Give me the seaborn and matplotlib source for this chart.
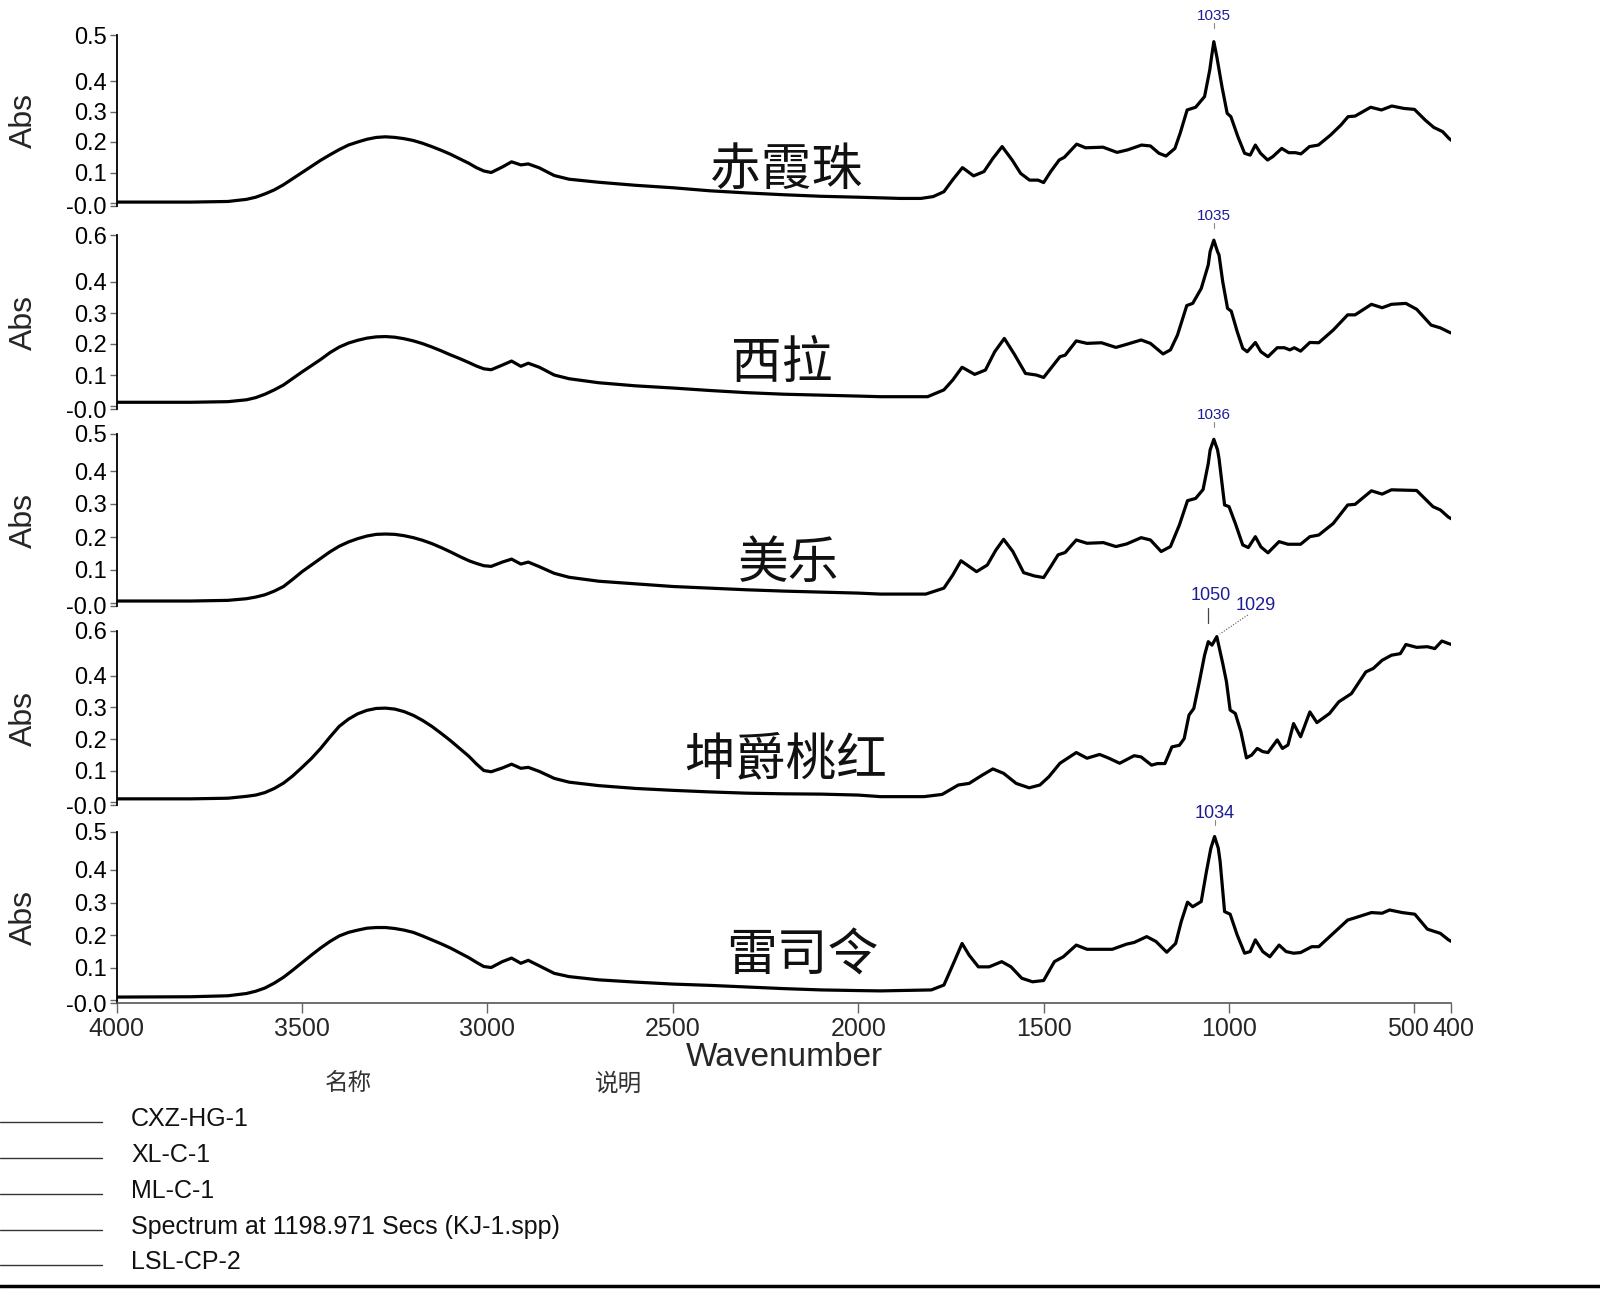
import numpy as np
import pandas as pd
import matplotlib
matplotlib.use("Agg")
import matplotlib.pyplot as plt
from matplotlib.lines import Line2D
import matplotlib.transforms as mtransforms
import seaborn as sns

# ---------------- data ----------------
sample_names = ["赤霞珠", "西拉", "美乐", "坤爵桃红", "雷司令"]
legend_names = ["CXZ-HG-1", "XL-C-1", "ML-C-1",
                "Spectrum at 1198.971 Secs (KJ-1.spp)", "LSL-CP-2"]
peak_labels = [["1035"], ["1035"], ["1036"], ["1050", "1029"], ["1034"]]
top_tick_labels = ["0.5", "0.6", "0.5", "0.6", "0.5"]
x_ticks = [4000, 3500, 3000, 2500, 2000, 1500, 1000, 500, 400]
x_tick_labels = ["4000", "3500", "3000", "2500", "2000", "1500", "1000", "500", "400"]
y_ticks = [0.1, 0.2, 0.3, 0.4]

# high-wavenumber region (shared read positions)
wn_broad = [4000, 3800, 3700, 3650, 3625, 3600, 3575, 3550, 3525, 3500, 3475, 3450, 3425, 3400,
            3375, 3350, 3325, 3300, 3275, 3250, 3225, 3200, 3175, 3150, 3125, 3100, 3075, 3050,
            3030, 3010, 2990, 2960, 2935, 2910, 2890, 2860, 2820, 2780, 2700, 2600, 2500, 2400,
            2300, 2200, 2100, 2000]
broad_cxz = [0.003, 0.003, 0.005, 0.012, 0.019, 0.03, 0.043, 0.06, 0.08, 0.10, 0.12, 0.14, 0.158, 0.175,
             0.19, 0.20, 0.209, 0.215, 0.217, 0.215, 0.211, 0.205, 0.196, 0.185, 0.173, 0.16, 0.145, 0.13,
             0.116, 0.105, 0.10, 0.118, 0.135, 0.125, 0.128, 0.115, 0.09, 0.078, 0.068, 0.058, 0.05, 0.04,
             0.033, 0.027, 0.022, 0.019]
broad_xl = [0.012, 0.012, 0.014, 0.02, 0.027, 0.038, 0.052, 0.068, 0.089, 0.11, 0.13, 0.15, 0.172, 0.19,
            0.203, 0.212, 0.219, 0.223, 0.224, 0.222, 0.217, 0.21, 0.201, 0.19, 0.178, 0.165, 0.153, 0.14,
            0.129, 0.12, 0.117, 0.132, 0.145, 0.128, 0.138, 0.125, 0.10, 0.088, 0.075, 0.065, 0.058, 0.05,
            0.043, 0.038, 0.035, 0.032]
broad_ml = [0.006, 0.006, 0.008, 0.013, 0.018, 0.025, 0.036, 0.05, 0.072, 0.095, 0.115, 0.135, 0.155, 0.172,
            0.185, 0.195, 0.203, 0.208, 0.209, 0.208, 0.204, 0.198, 0.19, 0.18, 0.168, 0.155, 0.141, 0.128,
            0.12, 0.113, 0.111, 0.124, 0.133, 0.118, 0.124, 0.11, 0.09, 0.078, 0.066, 0.058, 0.05, 0.045,
            0.04, 0.036, 0.033, 0.03]
broad_kj = [0.01, 0.01, 0.012, 0.018, 0.022, 0.03, 0.043, 0.06, 0.083, 0.11, 0.138, 0.17, 0.206, 0.24,
            0.263, 0.28, 0.291, 0.297, 0.298, 0.295, 0.287, 0.275, 0.259, 0.24, 0.218, 0.195, 0.17, 0.145,
            0.121, 0.10, 0.096, 0.108, 0.12, 0.107, 0.11, 0.097, 0.075, 0.063, 0.052, 0.043, 0.037, 0.032,
            0.028, 0.026, 0.025, 0.022]
broad_lsl = [0.009, 0.01, 0.013, 0.02, 0.027, 0.037, 0.052, 0.07, 0.092, 0.115, 0.138, 0.16, 0.18, 0.197,
             0.208, 0.215, 0.221, 0.223, 0.223, 0.22, 0.215, 0.208, 0.197, 0.185, 0.173, 0.16, 0.145, 0.13,
             0.116, 0.103, 0.10, 0.118, 0.129, 0.113, 0.122, 0.105, 0.082, 0.072, 0.062, 0.055, 0.049, 0.045,
             0.04, 0.035, 0.031, 0.029]

# fingerprint region
fp_wn_cxz = [1887, 1831, 1798, 1769, 1746, 1719, 1689, 1661, 1637, 1612, 1585, 1562, 1538, 1515, 1500,
             1481, 1458, 1444, 1411, 1387, 1340, 1302, 1274, 1236, 1212, 1189, 1170, 1146, 1132, 1113,
             1090, 1066, 1052, 1047, 1041, 1033, 1019, 1005, 995, 976, 958, 943, 929, 915, 896, 882,
             858, 839, 821, 806, 783, 759, 726, 698, 679, 660, 618, 589, 561, 528, 500, 471, 448, 424,
             407, 400]
fp_cxz = [0.015, 0.015, 0.021, 0.037, 0.075, 0.116, 0.089, 0.103, 0.146, 0.185, 0.141, 0.097, 0.075, 0.075, 0.067,
          0.103, 0.141, 0.15, 0.193, 0.181, 0.183, 0.166, 0.174, 0.19, 0.187, 0.163, 0.154, 0.179, 0.228, 0.305,
          0.314, 0.349, 0.436, 0.48, 0.529, 0.48, 0.381, 0.294, 0.283, 0.217, 0.163, 0.157, 0.19, 0.163, 0.141, 0.152,
          0.179, 0.165, 0.165, 0.161, 0.185, 0.19, 0.223, 0.256, 0.283, 0.285, 0.314, 0.305, 0.318, 0.31, 0.307,
          0.272, 0.248, 0.234, 0.212, 0.205]

fp_wn_xl = [1940, 1813, 1769, 1745, 1720, 1686, 1657, 1632, 1606, 1578, 1549, 1520, 1500, 1481,
            1456, 1442, 1412, 1383, 1344, 1305, 1276, 1237, 1212, 1178, 1158, 1139, 1114, 1098,
            1075, 1056, 1051, 1041, 1031, 1027, 1017, 1004, 994, 978, 963, 951, 939, 929, 914, 895,
            870, 851, 836, 824, 807, 782, 758, 719, 680, 660, 616, 587, 562, 523, 494, 455, 430, 408, 400]
fp_xl = [0.030, 0.030, 0.052, 0.084, 0.125, 0.102, 0.116, 0.175, 0.218, 0.165, 0.105, 0.10, 0.092, 0.121,
         0.159, 0.164, 0.21, 0.202, 0.204, 0.189, 0.199, 0.213, 0.202, 0.168, 0.181, 0.229, 0.324, 0.331,
         0.379, 0.455, 0.498, 0.535, 0.498, 0.487, 0.401, 0.315, 0.306, 0.24, 0.186, 0.175, 0.191, 0.205, 0.175, 0.159,
         0.188, 0.188, 0.181, 0.188, 0.177, 0.205, 0.204, 0.245, 0.294, 0.294, 0.328, 0.317, 0.328, 0.331, 0.312,
         0.261, 0.252, 0.239, 0.235]

fp_wn_ml = [1940, 1818, 1769, 1745, 1723, 1681, 1652, 1629, 1608, 1583, 1554, 1525, 1500, 1481,
            1461, 1442, 1412, 1383, 1339, 1305, 1276, 1237, 1212, 1183, 1158, 1134, 1112, 1090,
            1070, 1056, 1051, 1041, 1031, 1027, 1012, 1000, 983, 963, 948, 929, 914, 895, 865,
            841, 807, 782, 758, 719, 680, 660, 616, 587, 562, 494, 450, 430, 408, 400]
fp_ml = [0.027, 0.027, 0.045, 0.085, 0.128, 0.095, 0.115, 0.16, 0.193, 0.156, 0.092, 0.082, 0.077, 0.11,
         0.146, 0.153, 0.191, 0.181, 0.183, 0.171, 0.179, 0.198, 0.191, 0.156, 0.171, 0.236, 0.31, 0.317,
         0.344, 0.423, 0.464, 0.496, 0.464, 0.438, 0.297, 0.292, 0.241, 0.176, 0.168, 0.201, 0.17, 0.152, 0.186,
         0.178, 0.178, 0.201, 0.206, 0.241, 0.297, 0.299, 0.34, 0.33, 0.343, 0.341, 0.292, 0.282, 0.26, 0.255]

fp_wn_kj = [1940, 1823, 1774, 1730, 1701, 1666, 1637, 1608, 1574, 1539, 1510, 1486, 1456, 1412,
            1383, 1349, 1324, 1295, 1256, 1237, 1209, 1193, 1173, 1154, 1134, 1121, 1108, 1095,
            1080, 1066, 1056, 1046, 1033, 1017, 1007, 997, 983, 968, 953, 939, 924, 909, 895, 870,
            856, 841, 826, 807, 782, 763, 729, 704, 670, 631, 611, 587, 562, 538, 523, 494, 465,
            445, 426, 408, 400]
fp_kj = [0.017, 0.017, 0.024, 0.054, 0.059, 0.085, 0.105, 0.091, 0.059, 0.045, 0.054, 0.08, 0.123, 0.157,
         0.139, 0.151, 0.139, 0.123, 0.147, 0.143, 0.117, 0.122, 0.122, 0.175, 0.18, 0.201, 0.276, 0.297,
         0.382, 0.466, 0.509, 0.498, 0.525, 0.44, 0.382, 0.292, 0.281, 0.223, 0.14, 0.149, 0.17, 0.16, 0.157, 0.197,
         0.17, 0.181, 0.249, 0.207, 0.286, 0.252, 0.281, 0.318, 0.344, 0.413, 0.424, 0.45, 0.466, 0.471, 0.5, 0.491, 0.493,
         0.487, 0.511, 0.503, 0.5]

fp_wn_lsl = [1940, 1803, 1769, 1745, 1720, 1701, 1676, 1647, 1613, 1588, 1559, 1530, 1500, 1471,
             1447, 1412, 1383, 1315, 1276, 1256, 1222, 1197, 1168, 1144, 1129, 1112, 1098, 1075,
             1061, 1049, 1039, 1029, 1024, 1012, 997, 978, 958, 943, 929, 909, 890, 865, 846, 826,
             807, 777, 758, 719, 680, 660, 616, 587, 567, 533, 499, 465, 430, 408, 400]
fp_lsl = [0.028, 0.031, 0.046, 0.108, 0.174, 0.138, 0.102, 0.102, 0.118, 0.102, 0.067, 0.056, 0.06, 0.118,
          0.133, 0.169, 0.156, 0.156, 0.172, 0.177, 0.195, 0.18, 0.147, 0.174, 0.241, 0.301, 0.287, 0.303,
          0.395, 0.467, 0.503, 0.467, 0.426, 0.272, 0.264, 0.2, 0.144, 0.149, 0.185, 0.149, 0.133, 0.169, 0.149, 0.144,
          0.146, 0.164, 0.164, 0.205, 0.246, 0.253, 0.269, 0.267, 0.277, 0.269, 0.264, 0.218, 0.205, 0.185, 0.18]

spectra = [
    (wn_broad + fp_wn_cxz, broad_cxz + fp_cxz),
    (wn_broad + fp_wn_xl, broad_xl + fp_xl),
    (wn_broad + fp_wn_ml, broad_ml + fp_ml),
    (wn_broad + fp_wn_kj, broad_kj + fp_kj),
    (wn_broad + fp_wn_lsl, broad_lsl + fp_lsl),
]

# ---------------- style ----------------
sns.set_theme(style="white")
plt.rcParams['font.family'] = ['Liberation Sans', 'Noto Sans CJK SC', 'DejaVu Sans']
plt.rcParams['axes.unicode_minus'] = False

W, H = 1600, 1289
fig = plt.figure(figsize=(W / 100, H / 100), dpi=100)
fig.patch.set_facecolor('white')

AX_L, AX_R = 116.7, 1451.5
# (top px, zero px, px per unit)
layout = [(35, 203, 305), (235, 406, 310), (434, 603, 330), (631, 802, 315), (832, 1000, 325)]
label_pos = [(786, 171), (782, 364), (789, 564), (786, 760), (802, 957)]
blue = '#1c1c96'

axes = []
for i, ((top, zero, scale), (wn, ab)) in enumerate(zip(layout, spectra)):
    bottom = zero + 3
    vmin = -3.0 / scale
    vtop = (zero - top) / scale
    ax = fig.add_axes([AX_L / W, 1 - bottom / H, (AX_R - AX_L) / W, (bottom - top) / H])
    ax.set_facecolor('none')
    df = pd.DataFrame({"Wavenumber": wn, "Abs": ab})
    sns.lineplot(data=df, x="Wavenumber", y="Abs", ax=ax, color='black', lw=2.3,
                 sort=False, estimator=None)
    ax.set_xlim(4000, 400)
    ax.set_ylim(vmin, vtop)
    for s in ['top', 'right']:
        ax.spines[s].set_visible(False)
    ax.spines['left'].set_color('black')
    ax.spines['left'].set_linewidth(1.3)
    ax.set_yticks([vmin, 0.0] + y_ticks + [vtop])
    ax.set_yticklabels(["-0.0", ""] + [f"{t:.1f}" for t in y_ticks] + [top_tick_labels[i]])
    ax.tick_params(axis='y', direction='out', length=5, width=1, color='#666666',
                   labelsize=17, pad=2, left=True, labelcolor='black')
    ax.set_ylabel("Abs", fontsize=23, labelpad=4)
    ax.yaxis.set_label_coords(-0.058, 0.5)
    if i < 4:
        ax.spines['bottom'].set_visible(False)
        ax.set_xticks([])
        ax.set_xlabel("")
    else:
        ax.spines['bottom'].set_color('#555555')
        ax.spines['bottom'].set_linewidth(1.2)
        ax.set_xticks(x_ticks)
        ax.set_xticklabels(x_tick_labels)
        ax.tick_params(axis='x', direction='out', length=7, width=1, color='#666666',
                       labelsize=18, pad=3, bottom=True)
        ax.set_xlabel("Wavenumber", fontsize=24, labelpad=1)
        # the "500" and "400" labels sit side by side as in the reference
        lbls = ax.get_xticklabels()
        shifts = {"500": -6, "400": 2}
        for lb in lbls:
            if lb.get_text() in shifts:
                lb.set_transform(lb.get_transform() +
                                 mtransforms.ScaledTranslation(shifts[lb.get_text()] / 100, 0,
                                                               fig.dpi_scale_trans))
    ax.grid(False)
    fig.text(label_pos[i][0] / W, 1 - label_pos[i][1] / H, sample_names[i],
             fontsize=36.5, ha='center', va='center', family=['Noto Sans CJK SC'],
             fontweight='light', color='#111111')
    axes.append(ax)

fig.canvas.draw()

# ---------------- peak labels ----------------
def to_px(ax, w, v):
    x, y = ax.transData.transform((w, v))
    return x, H - y

for i, ax in enumerate(axes):
    wn = np.array(spectra[i][0]); ab = np.array(spectra[i][1])
    top = layout[i][0]
    win = (wn > 1000) & (wn < 1070)
    if i != 3:
        k = np.argmax(np.where(win, ab, -1))
        xp, yp = to_px(ax, wn[k], ab[k])
        fs = 11 if i < 3 else 13
        fig.text(xp / W, 1 - (top - 19) / H, peak_labels[i][0], fontsize=fs, color=blue,
                 ha='center', va='center')
        fig.add_artist(Line2D([xp / W, xp / W], [1 - (top - 12) / H, 1 - (top - 7) / H],
                              color='#888888', lw=0.8))
    else:
        k1 = int(np.where(wn == 1056)[0][0]); k2 = int(np.where(wn == 1033)[0][0])
        x1, y1 = to_px(ax, wn[k1], ab[k1])
        x2, y2 = to_px(ax, wn[k2], ab[k2])
        fig.text((x1 + 2) / W, 1 - (top - 35) / H, peak_labels[3][0], fontsize=13, color=blue,
                 ha='center', va='center')
        fig.add_artist(Line2D([x1 / W, x1 / W], [1 - (top - 23) / H, 1 - (top - 8) / H],
                              color='#444444', lw=0.9))
        fig.text((x2 + 39) / W, 1 - (top - 25) / H, peak_labels[3][1], fontsize=13, color=blue,
                 ha='center', va='center')
        fig.add_artist(Line2D([(x2 + 31) / W, (x2 + 3) / W], [1 - (top - 16) / H, 1 - (top + 3) / H],
                              color='#555555', lw=0.8, ls=(0, (1, 1.5))))

# ---------------- legend block ----------------
fig.text(348 / W, 1 - 1084 / H, "名称", fontsize=17, ha='center', va='center',
         family=['Noto Sans CJK SC'], color='#333333')
fig.text(619 / W, 1 - 1084 / H, "说明", fontsize=17, ha='center', va='center',
         family=['Noto Sans CJK SC'], color='#333333')
leg_y = [1122, 1158, 1194, 1230, 1265]
for name, y in zip(legend_names, leg_y):
    fig.add_artist(Line2D([0, 102 / W], [1 - y / H, 1 - y / H], color='#333333', lw=1.0))
    fig.text(131 / W, 1 - (y - 3) / H, name, fontsize=18, ha='left', va='center', color='#111111')
fig.add_artist(Line2D([0, 1], [1 - 1286 / H, 1 - 1286 / H], color='black', lw=2.5))

fig.savefig("out.png", dpi=100)
